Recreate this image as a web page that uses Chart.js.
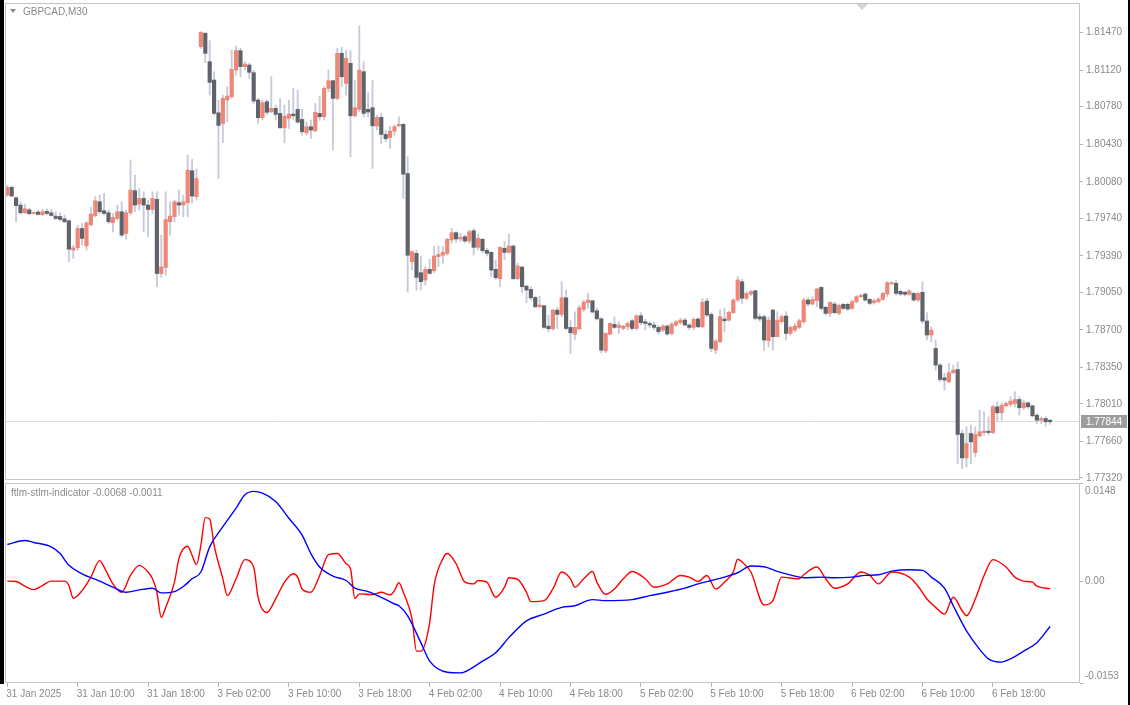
<!DOCTYPE html>
<html>
<head>
<meta charset="utf-8">
<script src="https://cdn.jsdelivr.net/npm/chart.js@4.4.1/dist/chart.umd.min.js"></script>
<style>
  html, body { margin: 0; padding: 0; background: #fff; }
  #wrap { position: relative; width: 1130px; height: 705px; overflow: hidden; background: #fff; }
  #price { position: absolute; left: 0; top: 0; }
  #ind { position: absolute; left: 0; top: 483px; }
  .edge { position: absolute; top: 0; background: #000; }
</style>
</head>
<body>
<div id="wrap">
  <canvas id="price" width="1130" height="483"></canvas>
  <canvas id="ind" width="1130" height="222"></canvas>
  <div class="edge" style="left:0;width:4px;height:684px"></div>
  <div class="edge" style="left:1128px;width:2px;height:705px"></div>
</div>
<script>
// GBPCAD M30, one entry per bar, first bar = 31 Jan 2025 02:00
const symbol = 'GBPCAD';
const timeframe = 'M30';

const opens = [
1.79956,1.80028,1.79931,1.79863,1.79791,1.79819,1.79785,1.79798,1.79773,1.79804,
1.79791,1.79760,1.79757,1.79735,1.79717,1.79443,1.79465,1.79645,1.79483,1.79679,
1.79763,1.79894,1.79810,1.79791,1.79698,1.79738,1.79801,1.79598,1.79791,1.79997,
1.79872,1.79925,1.79863,1.79822,1.79916,1.79225,1.79281,1.79707,1.79754,1.79885,
1.79863,1.79885,1.80183,1.79941,1.81339,1.81464,1.81199,1.81028,1.80723,1.80624,
1.80842,1.80873,1.81121,1.81302,1.81153,1.81168,1.81097,1.80842,1.80677,1.80826,
1.80733,1.80764,1.80717,1.80583,1.80671,1.80711,1.80755,1.80661,1.80537,1.80593,
1.80555,1.80717,1.80686,1.80950,1.81022,1.80857,1.81277,1.80997,1.81184,1.80695,
1.80755,1.81106,1.80755,1.80770,1.80599,1.80680,1.80521,1.80493,1.80552,1.80602,
1.80615,1.80157,1.79335,1.79413,1.79233,1.79164,1.79264,1.79251,1.79382,1.79397,
1.79413,1.79537,1.79606,1.79547,1.79568,1.79528,1.79624,1.79469,1.79544,1.79441,
1.79422,1.79264,1.79177,1.79460,1.79422,1.79481,1.79177,1.79285,1.79108,1.79077,
1.79002,1.78915,1.78925,1.78735,1.78710,1.78884,1.78844,1.78999,1.78723,1.78660,
1.78710,1.78891,1.78953,1.78971,1.78878,1.78803,1.78505,1.78660,1.78751,1.78723,
1.78713,1.78729,1.78785,1.78713,1.78832,1.78776,1.78760,1.78745,1.78723,1.78698,
1.78736,1.78667,1.78745,1.78767,1.78791,1.78745,1.78723,1.78801,1.78729,1.78968,
1.78844,1.78512,1.78589,1.78801,1.78791,1.78860,1.78978,1.79149,1.78994,1.79034,
1.79065,1.78823,1.78823,1.78599,1.78885,1.78636,1.78776,1.78829,1.78667,1.78698,
1.78723,1.78776,1.78978,1.78941,1.78972,1.79096,1.78910,1.78854,1.78941,1.78854,
1.78938,1.78938,1.78900,1.78963,1.79009,1.79034,1.78984,1.78953,1.78963,1.78984,
1.79034,1.79130,1.79134,1.79059,1.79050,1.79031,1.79040,1.78978,1.79050,1.78782,
1.78652,1.78527,1.78372,1.78253,1.78216,1.78300,1.78331,1.77734,1.77507,1.77734,
1.77557,1.77712,1.77743,1.77756,1.77743,1.77983,1.77927,1.77992,1.78005,1.78014,
1.78051,1.77974,1.78020,1.77992,1.77905,1.77858,1.77874,1.77858
];
const highs = [
1.80049,1.80040,1.79941,1.79894,1.79872,1.79832,1.79801,1.79816,1.79822,1.79829,
1.79822,1.79801,1.79791,1.79770,1.79723,1.79490,1.79676,1.79692,1.79707,1.79841,
1.79941,1.79956,1.79972,1.79816,1.79785,1.79863,1.79894,1.79816,1.80283,1.80143,
1.80018,1.79987,1.79909,1.79987,1.79987,1.79583,1.79987,1.79894,1.79909,1.80003,
1.79956,1.80330,1.80288,1.80200,1.81479,1.81470,1.81395,1.81106,1.80842,1.80888,
1.80966,1.81308,1.81345,1.81324,1.81199,1.81184,1.81121,1.80857,1.80842,1.80842,
1.81059,1.80795,1.80857,1.80795,1.80842,1.80950,1.80935,1.80755,1.80639,1.80655,
1.80810,1.80879,1.80966,1.81121,1.81028,1.81324,1.81333,1.81308,1.81302,1.81028,
1.81532,1.81199,1.80910,1.81028,1.80702,1.80717,1.80562,1.80599,1.80608,1.80686,
1.80624,1.80313,1.79438,1.79444,1.79388,1.79289,1.79357,1.79481,1.79481,1.79475,
1.79553,1.79646,1.79615,1.79600,1.79584,1.79631,1.79646,1.79593,1.79553,1.79460,
1.79429,1.79351,1.79475,1.79522,1.79593,1.79491,1.79320,1.79295,1.79118,1.79102,
1.79015,1.79015,1.78931,1.78838,1.78891,1.78909,1.79149,1.79071,1.78791,1.78869,
1.78931,1.78978,1.79040,1.78978,1.78900,1.78813,1.78673,1.78766,1.78822,1.78775,
1.78744,1.78775,1.78797,1.78838,1.78860,1.78800,1.78775,1.78770,1.78740,1.78750,
1.78750,1.78770,1.78790,1.78810,1.78810,1.78760,1.78815,1.78815,1.78990,1.78994,
1.78860,1.78610,1.78891,1.78900,1.78875,1.78994,1.79196,1.79171,1.79060,1.79070,
1.79070,1.78850,1.78840,1.78823,1.78891,1.78869,1.78840,1.78869,1.78740,1.78760,
1.78800,1.78994,1.79000,1.79010,1.79087,1.79102,1.78920,1.78963,1.78960,1.78940,
1.78950,1.78950,1.78975,1.79020,1.79035,1.79045,1.78995,1.78985,1.79000,1.79050,
1.79149,1.79150,1.79165,1.79070,1.79060,1.79075,1.79050,1.79050,1.79149,1.78860,
1.78729,1.78605,1.78387,1.78294,1.78387,1.78372,1.78403,1.77765,1.77796,1.77812,
1.77796,1.77952,1.77936,1.77890,1.77998,1.78030,1.78020,1.78030,1.78076,1.78123,
1.78076,1.78045,1.78030,1.78000,1.77920,1.77890,1.77890,1.77867
];
const lows = [
1.79941,1.79941,1.79707,1.79779,1.79785,1.79776,1.79779,1.79770,1.79766,1.79770,
1.79760,1.79723,1.79717,1.79701,1.79334,1.79365,1.79443,1.79490,1.79443,1.79667,
1.79754,1.79785,1.79770,1.79692,1.79614,1.79723,1.79567,1.79543,1.79770,1.79801,
1.79816,1.79614,1.79567,1.79785,1.79101,1.79194,1.79210,1.79583,1.79707,1.79770,
1.79754,1.79753,1.79884,1.79909,1.81324,1.81190,1.80888,1.80702,1.80111,1.80444,
1.80639,1.80857,1.81075,1.81059,1.81121,1.81044,1.80810,1.80624,1.80655,1.80702,
1.80723,1.80655,1.80577,1.80444,1.80577,1.80655,1.80624,1.80515,1.80515,1.80484,
1.80546,1.80655,1.80655,1.80919,1.80375,1.80842,1.80966,1.80888,1.80313,1.80686,
1.80733,1.80686,1.80686,1.80204,1.80562,1.80437,1.80453,1.80391,1.80515,1.80593,
1.79924,1.79053,1.79258,1.79071,1.79071,1.79118,1.79220,1.79233,1.79289,1.79320,
1.79397,1.79506,1.79513,1.79522,1.79513,1.79506,1.79397,1.79444,1.79419,1.79388,
1.79195,1.79170,1.79102,1.79357,1.79413,1.79170,1.79170,1.79046,1.78953,1.78978,
1.78909,1.78909,1.78713,1.78682,1.78698,1.78713,1.78822,1.78698,1.78480,1.78611,
1.78698,1.78869,1.78900,1.78859,1.78791,1.78486,1.78486,1.78651,1.78713,1.78667,
1.78698,1.78698,1.78698,1.78698,1.78745,1.78700,1.78720,1.78700,1.78660,1.78680,
1.78650,1.78650,1.78730,1.78750,1.78735,1.78700,1.78700,1.78720,1.78720,1.78823,
1.78496,1.78480,1.78580,1.78683,1.78780,1.78850,1.78960,1.78947,1.78980,1.79020,
1.78791,1.78780,1.78511,1.78543,1.78512,1.78636,1.78760,1.78605,1.78650,1.78680,
1.78710,1.78760,1.78920,1.78930,1.78916,1.78885,1.78840,1.78823,1.78850,1.78840,
1.78890,1.78880,1.78890,1.78950,1.79000,1.78965,1.78935,1.78940,1.78955,1.78975,
1.79009,1.79120,1.79025,1.79020,1.79015,1.79020,1.78965,1.78965,1.78760,1.78605,
1.78589,1.78325,1.78216,1.78138,1.78207,1.78294,1.77454,1.77408,1.77423,1.77454,
1.77516,1.77703,1.77719,1.77719,1.77734,1.77843,1.77858,1.77983,1.77983,1.77983,
1.77905,1.77958,1.77967,1.77890,1.77827,1.77827,1.77803,1.77820
];
const closes = [
1.80028,1.79947,1.79857,1.79791,1.79829,1.79782,1.79791,1.79776,1.79801,1.79785,
1.79766,1.79738,1.79729,1.79707,1.79452,1.79465,1.79645,1.79552,1.79698,1.79779,
1.79903,1.79801,1.79785,1.79707,1.79748,1.79801,1.79583,1.79791,1.80003,1.79863,
1.79925,1.79863,1.79822,1.79925,1.79225,1.79287,1.79729,1.79760,1.79894,1.79863,
1.79894,1.80189,1.79947,1.80110,1.81473,1.81277,1.81006,1.80717,1.80605,1.80857,
1.80879,1.81128,1.81302,1.81153,1.81177,1.81100,1.80832,1.80677,1.80817,1.80727,
1.80764,1.80708,1.80583,1.80692,1.80711,1.80695,1.80636,1.80546,1.80593,1.80562,
1.80727,1.80686,1.80950,1.81022,1.80857,1.81277,1.81059,1.81230,1.80695,1.80770,
1.81121,1.80717,1.80730,1.80602,1.80680,1.80521,1.80481,1.80552,1.80593,1.80615,
1.80151,1.79395,1.79429,1.79189,1.79149,1.79264,1.79226,1.79388,1.79404,1.79422,
1.79544,1.79606,1.79547,1.79562,1.79528,1.79615,1.79469,1.79553,1.79438,1.79413,
1.79257,1.79186,1.79469,1.79422,1.79481,1.79177,1.79295,1.79102,1.79071,1.78999,
1.78915,1.78931,1.78723,1.78710,1.78884,1.78844,1.78999,1.78713,1.78673,1.78723,
1.78906,1.78959,1.78978,1.78866,1.78803,1.78511,1.78667,1.78760,1.78723,1.78744,
1.78735,1.78760,1.78713,1.78831,1.78767,1.78760,1.78745,1.78723,1.78683,1.78736,
1.78661,1.78754,1.78776,1.78791,1.78745,1.78723,1.78798,1.78729,1.78956,1.78838,
1.78527,1.78596,1.78823,1.78785,1.78863,1.78978,1.79165,1.78994,1.79040,1.79056,
1.78807,1.78801,1.78605,1.78791,1.78636,1.78791,1.78823,1.78667,1.78723,1.78736,
1.78785,1.78978,1.78941,1.78984,1.79081,1.78900,1.78854,1.78956,1.78860,1.78928,
1.78900,1.78894,1.78963,1.79009,1.79022,1.78978,1.78947,1.78972,1.78987,1.79040,
1.79140,1.79140,1.79040,1.79034,1.79031,1.79062,1.78978,1.79040,1.78782,1.78652,
1.78698,1.78372,1.78238,1.78232,1.78300,1.78325,1.77725,1.77507,1.77641,1.77656,
1.77725,1.77750,1.77756,1.77743,1.77983,1.77927,1.77998,1.78014,1.78036,1.78051,
1.77974,1.78020,1.77983,1.77899,1.77858,1.77874,1.77843,1.77844
];

// price scale labels (right axis)
const priceTicks = [1.81470, 1.81120, 1.80780, 1.80430, 1.80080, 1.79740, 1.79390,
                    1.79050, 1.78700, 1.78350, 1.78010, 1.77660, 1.77320];

// time labels, one every 16 bars (8 hours)
const timeLabels = ['31 Jan 2025', '31 Jan 10:00', '31 Jan 18:00', '3 Feb 02:00', '3 Feb 10:00',
  '3 Feb 18:00', '4 Feb 02:00', '4 Feb 10:00', '4 Feb 18:00', '5 Feb 02:00', '5 Feb 10:00',
  '5 Feb 18:00', '6 Feb 02:00', '6 Feb 10:00', '6 Feb 18:00'];
const barsPerLabel = 16;

// ftlm-stlm indicator (bar index + value)
const indName = 'ftlm-stlm-indicator';
const slowBars = [0,4,6,10,12,14,17,21,24,27,30,33,35,38,40,42,44,46,49,52,54,56,58,61,64,67,69,71,74,77,
  79,82,85,88,89,91,94,96,100,103,105,108,111,114,118,122,126,129,133,136,142,146,150,154,157,160,163,166,169,172,
  175,179,181,185,188,192,195,198,201,205,208,210,213,215,218,221,223,226,228,231,234,237];
const slowVals = [0.00554,0.00615,0.00585,0.00519,0.00418,0.00241,0.00114,0.00003,-0.00088,-0.00164,
  -0.00129,-0.00103,-0.00174,-0.00154,-0.00078,0.00038,0.00140,0.00519,0.00822,0.01101,
  0.01303,0.01354,0.01328,0.01202,0.00949,0.00696,0.00418,0.00215,0.00079,0.00013,
  -0.00103,-0.00154,-0.00240,-0.00341,-0.00367,-0.00518,-0.00923,-0.01201,-0.01368,-0.01378,
  -0.01328,-0.01201,-0.01075,-0.00847,-0.00594,-0.00493,-0.00392,-0.00367,-0.00275,-0.00291,
  -0.00275,-0.00215,-0.00164,-0.00103,-0.00038,0.00013,0.00064,0.00129,0.00230,0.00220,
  0.00149,0.00079,0.00053,0.00064,0.00053,0.00064,0.00089,0.00099,0.00154,0.00175,
  0.00165,0.00064,-0.00103,-0.00367,-0.00746,-0.01024,-0.01166,-0.01216,-0.01166,-0.01050,
  -0.00923,-0.00680];
const fastBars = [0,2,4,6,8,10,13,14,15,17,19,21,22,24,26,28,30,32,33,34,35,36,38,39,41,42,43,44,45,46,
  47,49,50,52,54,56,57,59,61,63,65,66,67,69,71,73,75,77,78,79,80,83,85,87,88,89,90,92,93,94,
  96,97,99,100,102,104,106,107,109,111,113,114,116,118,119,122,124,126,128,129,131,133,134,136,138,140,142,145,147,150,
  153,155,157,159,161,163,165,166,167,169,172,174,176,180,181,184,186,188,191,194,196,198,201,205,207,209,211,213,215,217,
  218,220,222,224,227,229,231,233,234,237];
const fastVals = [0.00003,-0.00002,-0.00073,-0.00124,-0.00063,0.00003,0.00003,-0.00063,-0.00255,-0.00139,
  0.00064,0.00311,0.00215,-0.00038,-0.00164,0.00089,0.00241,0.00140,0.00038,-0.00164,
  -0.00544,-0.00392,-0.00012,0.00342,0.00529,0.00392,0.00251,0.00544,0.00959,0.00939,
  0.00544,0.00038,-0.00215,0.00038,0.00327,0.00215,-0.00240,-0.00468,-0.00265,-0.00012,
  0.00114,0.00064,-0.00114,-0.00164,0.00089,0.00402,0.00418,0.00266,0.00190,-0.00255,
  -0.00189,-0.00200,-0.00164,-0.00205,-0.00139,-0.00022,-0.00164,-0.00569,-0.01050,-0.01050,
  -0.00620,-0.00063,0.00342,0.00418,0.00266,-0.00012,-0.00038,0.00013,-0.00012,-0.00240,
  -0.00088,0.00053,0.00028,-0.00164,-0.00306,-0.00291,-0.00114,0.00140,0.00038,-0.00088,
  0.00038,0.00149,-0.00012,-0.00195,-0.00114,0.00038,0.00149,0.00038,-0.00088,-0.00038,
  0.00089,0.00064,-0.00002,0.00089,-0.00114,-0.00012,0.00140,0.00332,0.00291,0.00140,
  -0.00356,-0.00291,0.00064,0.00038,0.00099,0.00215,0.00038,-0.00103,-0.00038,0.00140,
  0.00089,-0.00038,0.00140,0.00064,-0.00073,-0.00265,-0.00392,-0.00493,-0.00240,-0.00442,
  -0.00518,-0.00265,0.00089,0.00327,0.00215,0.00064,0.00003,-0.00012,-0.00073,-0.00110];
const indTicks = [0.0148, 0, -0.0153];
const indTickLabels = ['0.0148', '0.00', '-0.0153'];

const BULL = '#ef8676';
const BEAR = '#5f646b';
const WICK = '#c6cad9';
const TEXT = '#8a8a8a';
const FRAME = '#c4c4c4';
const FONT = { family: 'Liberation Sans, Arial, sans-serif', size: 10 };

// bar 0 sits 2.3px right of the pane edge, bars are 4.4px apart
const X_MIN = -0.52;
const X_MAX = 243.8;

const lastClose = closes[closes.length - 1];

const framePlugin = {
  id: 'frame',
  afterDraw(chart) {
    const { ctx, chartArea: a } = chart;
    ctx.save();
    ctx.strokeStyle = FRAME;
    ctx.lineWidth = 1;
    ctx.strokeRect(a.left + 0.5, a.top + 0.5, a.right - a.left - 1, a.bottom - a.top - 1);
    ctx.restore();
  }
};

const pricePanelPlugin = {
  id: 'pricePanel',
  beforeDatasetsDraw(chart) {
    const { ctx, chartArea: a, scales } = chart;
    const y = Math.floor(scales.y.getPixelForValue(lastClose)) + 0.5;
    ctx.save();
    ctx.strokeStyle = '#dcdcdc';
    ctx.lineWidth = 1;
    ctx.beginPath();
    ctx.moveTo(a.left, y);
    ctx.lineTo(a.right, y);
    ctx.stroke();
    ctx.restore();
  },
  afterDraw(chart) {
    const { ctx, chartArea: a, scales } = chart;
    const y = Math.floor(scales.y.getPixelForValue(lastClose)) + 0.5;
    ctx.save();
    // bid box on the price axis
    ctx.fillStyle = '#9d9d9d';
    ctx.fillRect(a.right + 1, y - 6.5, 46, 13);
    ctx.fillStyle = '#fff';
    ctx.font = '10px Liberation Sans, Arial, sans-serif';
    ctx.textBaseline = 'middle';
    ctx.fillText(lastClose.toFixed(5), a.right + 6, y + 0.5);
    // symbol caption
    ctx.fillStyle = TEXT;
    ctx.beginPath();
    ctx.moveTo(a.left + 5, a.top + 6);
    ctx.lineTo(a.left + 11, a.top + 6);
    ctx.lineTo(a.left + 8, a.top + 10);
    ctx.closePath();
    ctx.fill();
    ctx.fillText(symbol + ',' + timeframe, a.left + 18, a.top + 9);
    // chart shift marker
    ctx.fillStyle = '#d6d6d6';
    ctx.beginPath();
    ctx.moveTo(856, a.top + 1);
    ctx.lineTo(868, a.top + 1);
    ctx.lineTo(862, a.top + 7);
    ctx.closePath();
    ctx.fill();
    ctx.restore();
  }
};

const indPanelPlugin = {
  id: 'indPanel',
  afterDraw(chart) {
    const { ctx, chartArea: a, scales } = chart;
    ctx.save();
    ctx.fillStyle = TEXT;
    ctx.font = '10px Liberation Sans, Arial, sans-serif';
    ctx.textBaseline = 'middle';
    const cap = indName + ' ' + slowVals[slowVals.length - 1].toFixed(4) + ' ' + fastVals[fastVals.length - 1].toFixed(4);
    ctx.fillText(cap, a.left + 6, a.top + 10);
    indTicks.forEach((v, k) => {
      let y = scales.y.getPixelForValue(v);
      if (k === 0) y = a.top + 8;
      if (k === indTicks.length - 1) y = a.bottom - 7;
      ctx.fillText(indTickLabels[k], a.right + 5, y);
    });
    ctx.restore();
  }
};

new Chart(document.getElementById('price'), {
  type: 'bar',
  data: {
    datasets: [
      {
        label: 'wick',
        data: highs.map((h, i) => ({ x: i, y: [lows[i], h] })),
        backgroundColor: WICK,
        barThickness: 1.2,
        grouped: false,
        order: 2
      },
      {
        label: 'body',
        data: opens.map((o, i) => ({ x: i, y: [o, closes[i]] })),
        backgroundColor: opens.map((o, i) => closes[i] >= o ? BULL : BEAR),
        barThickness: 3.5,
        minBarLength: 1,
        grouped: false,
        order: 1
      }
    ]
  },
  options: {
    responsive: false,
    animation: false,
    devicePixelRatio: 1,
    layout: { padding: { left: 5, top: 3, right: 0, bottom: 3 } },
    plugins: { legend: { display: false }, tooltip: { enabled: false } },
    scales: {
      x: { type: 'linear', min: X_MIN, max: X_MAX, offset: false, display: false },
      y: {
        position: 'right',
        min: 1.77301,
        max: 1.81746,
        afterBuildTicks: s => { s.ticks = priceTicks.map(v => ({ value: v })); },
        afterFit: s => { s.width = 50; s.paddingTop = 0; s.paddingBottom = 0; },
        border: { display: false },
        grid: { drawOnChartArea: false, drawTicks: true, tickLength: 3, color: '#b4b4b4' },
        ticks: { padding: 3, color: TEXT, font: FONT, callback: v => v.toFixed(5) }
      }
    }
  },
  plugins: [pricePanelPlugin, framePlugin]
});

new Chart(document.getElementById('ind'), {
  type: 'line',
  data: {
    datasets: [
      {
        label: 'slow',
        data: slowBars.map((b, i) => ({ x: b, y: slowVals[i] })),
        borderColor: '#0000ff',
        borderWidth: 1.4,
        pointRadius: 0,
        cubicInterpolationMode: 'monotone',
        fill: false
      },
      {
        label: 'fast',
        data: fastBars.map((b, i) => ({ x: b, y: fastVals[i] })),
        borderColor: '#ff0000',
        borderWidth: 1.4,
        pointRadius: 0,
        cubicInterpolationMode: 'monotone',
        fill: false
      }
    ]
  },
  options: {
    responsive: false,
    animation: false,
    devicePixelRatio: 1,
    layout: { padding: { left: 5, top: 0, right: 0, bottom: 0 } },
    plugins: { legend: { display: false }, tooltip: { enabled: false } },
    scales: {
      x: {
        type: 'linear',
        min: X_MIN,
        max: X_MAX,
        afterBuildTicks: s => { s.ticks = timeLabels.map((_, k) => ({ value: k * barsPerLabel })); },
        afterFit: s => { s.height = 22; s.paddingLeft = 0; s.paddingRight = 0; },
        border: { display: false },
        grid: { drawOnChartArea: false, drawTicks: true, tickLength: 4, color: '#b4b4b4' },
        ticks: {
          autoSkip: false, maxRotation: 0, minRotation: 0, align: 'start', padding: 1, labelOffset: -1,
          color: TEXT, font: FONT,
          callback: (v, idx) => timeLabels[idx]
        }
      },
      y: {
        position: 'right',
        min: -0.0153,
        max: 0.0148,
        afterBuildTicks: s => { s.ticks = indTicks.map(v => ({ value: v })); },
        afterFit: s => { s.width = 50; s.paddingTop = 0; s.paddingBottom = 0; },
        border: { display: false },
        grid: { drawOnChartArea: false, drawTicks: true, tickLength: 3, color: '#b4b4b4' },
        ticks: { display: false }
      }
    }
  },
  plugins: [indPanelPlugin, framePlugin]
});
</script>
</body>
</html>
